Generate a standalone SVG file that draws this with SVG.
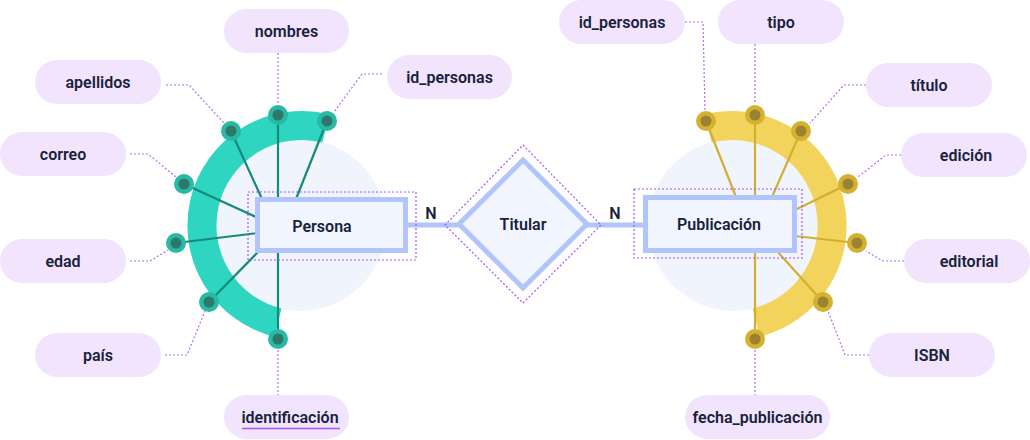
<svg xmlns="http://www.w3.org/2000/svg" width="1030" height="440" viewBox="0 0 1030 440">
<style>
.pill{fill:#f2e4fd}
.pt{font-family:Roboto,"Liberation Sans",sans-serif;font-size:16px;font-weight:600;fill:#18223b;text-anchor:middle}
.lead{fill:none;stroke:#b46cf6;stroke-width:1.2;stroke-dasharray:2 2}
.sel{fill:none;stroke:#a855f7;stroke-width:1.2;stroke-dasharray:2 2}
.ent{fill:#f0f5ff;stroke:#b1c5fa;stroke-width:5}
.rel{stroke:#b1c5fa;stroke-width:5;fill:none}
.tl{stroke:#15897a;stroke-width:2.2}
.gl{stroke:#d3ae34;stroke-width:2.2}
.tdo{fill:#27b9a4}.tdi{fill:#2c796c}
.gdo{fill:#d4b131}.gdi{fill:#9a8230}
.bg{fill:#eff4fd}
</style>
<g id="backgrounds">
<circle class="bg" cx="300" cy="225" r="86"/>
<circle class="bg" cx="734" cy="225" r="86"/>
<path d="M325.9,128.4 A100,100 0 1 0 278,322.6" fill="none" stroke="#2ed5c0" stroke-width="29"/>
<path d="M708.1,128.4 A100,100 0 1 1 756,322.6" fill="none" stroke="#f2d45c" stroke-width="29"/>
</g>
<g id="connectors">
<path class="lead" d="M166,85 H189 L224,123"/>
<path class="lead" d="M278,53 V104"/>
<path class="lead" d="M382,74 H362 L334,112"/>
<path class="lead" d="M130,154 H148 L176,177"/>
<path class="lead" d="M130,261 H150 L168,250"/>
<path class="lead" d="M165,355 H187 L205,311"/>
<path class="lead" d="M278,350 V395"/>
<path class="lead" d="M685,22 H703 L705,111"/>
<path class="lead" d="M755,44 V104"/>
<path class="lead" d="M866,85 H844 L810,123"/>
<path class="lead" d="M901,155 H886 L858,177"/>
<path class="lead" d="M904,261 H883 L866,251"/>
<path class="lead" d="M869,355 H845 L828,311"/>
<path class="lead" d="M755,350 V395"/>
<line class="tl" x1="231" y1="131" x2="262" y2="199"/>
<line class="tl" x1="278" y1="115" x2="278" y2="199"/>
<line class="tl" x1="327" y1="121" x2="296" y2="199"/>
<line class="tl" x1="184" y1="184" x2="258" y2="218"/>
<line class="tl" x1="176" y1="243" x2="258" y2="233"/>
<line class="tl" x1="209" y1="302" x2="259" y2="251"/>
<line class="tl" x1="278" y1="339" x2="278" y2="251"/>
<line class="gl" x1="706" y1="121" x2="736" y2="197"/>
<line class="gl" x1="755" y1="115" x2="755" y2="197"/>
<line class="gl" x1="801" y1="131" x2="772" y2="197"/>
<line class="gl" x1="848" y1="184" x2="795" y2="210"/>
<line class="gl" x1="857" y1="243" x2="795" y2="236"/>
<line class="gl" x1="823" y1="302" x2="776" y2="250"/>
<line class="gl" x1="755" y1="339" x2="755" y2="250"/>
<line class="rel" x1="406" y1="225" x2="461" y2="225"/>
<line class="rel" x1="585" y1="225" x2="646" y2="225"/>
</g>
<g id="dots">
<circle class="tdo" cx="231" cy="131" r="10"/><circle class="tdi" cx="231" cy="131" r="5.5"/>
<circle class="tdo" cx="278" cy="115" r="10"/><circle class="tdi" cx="278" cy="115" r="5.5"/>
<circle class="tdo" cx="327" cy="121" r="10"/><circle class="tdi" cx="327" cy="121" r="5.5"/>
<circle class="tdo" cx="184" cy="184" r="10"/><circle class="tdi" cx="184" cy="184" r="5.5"/>
<circle class="tdo" cx="176" cy="243" r="10"/><circle class="tdi" cx="176" cy="243" r="5.5"/>
<circle class="tdo" cx="209" cy="302" r="10"/><circle class="tdi" cx="209" cy="302" r="5.5"/>
<circle class="tdo" cx="278" cy="339" r="10"/><circle class="tdi" cx="278" cy="339" r="5.5"/>
<circle class="gdo" cx="706" cy="121" r="10"/><circle class="gdi" cx="706" cy="121" r="5.5"/>
<circle class="gdo" cx="755" cy="115" r="10"/><circle class="gdi" cx="755" cy="115" r="5.5"/>
<circle class="gdo" cx="801" cy="131" r="10"/><circle class="gdi" cx="801" cy="131" r="5.5"/>
<circle class="gdo" cx="848" cy="184" r="10"/><circle class="gdi" cx="848" cy="184" r="5.5"/>
<circle class="gdo" cx="857" cy="243" r="10"/><circle class="gdi" cx="857" cy="243" r="5.5"/>
<circle class="gdo" cx="823" cy="302" r="10"/><circle class="gdi" cx="823" cy="302" r="5.5"/>
<circle class="gdo" cx="755" cy="339" r="10"/><circle class="gdi" cx="755" cy="339" r="5.5"/>
</g>
<g id="persona">
<rect class="sel" x="248" y="192" width="168" height="68"/>
<rect class="ent" x="257.5" y="199.5" width="148" height="51"/>
<text class="pt" x="322" y="231.5">Persona</text>
</g>
<g id="publicacion">
<rect class="sel" x="634" y="189" width="168" height="69"/>
<rect class="ent" x="645.5" y="197.5" width="149" height="53"/>
<text class="pt" x="719" y="230">Publicación</text>
</g>
<g id="titular">
<path class="sel" d="M523,145 L601,225 L523,303 L445,225 Z"/>
<path class="ent" stroke-width="6" d="M523,160 L587,224 L523,288 L459,224 Z"/>
<text class="pt" x="523" y="230">Titular</text>
</g>
<g id="cardinality">
<text class="pt" x="431" y="219" font-weight="700">N</text>
<text class="pt" x="615" y="219" font-weight="700">N</text>
</g>
<g id="attr-nombres"><rect class="pill" x="224" y="9" width="125" height="44" rx="22"/><text class="pt" x="286.5" y="36.5">nombres</text></g>
<g id="attr-apellidos"><rect class="pill" x="35" y="60" width="126" height="44" rx="22"/><text class="pt" x="98" y="87.5">apellidos</text></g>
<g id="attr-id_personas-p"><rect class="pill" x="387" y="55" width="125" height="44" rx="22"/><text class="pt" x="449.5" y="82.5">id_personas</text></g>
<g id="attr-correo"><rect class="pill" x="0" y="132" width="126" height="44" rx="22"/><text class="pt" x="63" y="159.5">correo</text></g>
<g id="attr-edad"><rect class="pill" x="0" y="239" width="126" height="44" rx="22"/><text class="pt" x="63" y="266.5">edad</text></g>
<g id="attr-pais"><rect class="pill" x="35" y="333" width="126" height="44" rx="22"/><text class="pt" x="98" y="360.5">país</text></g>
<g id="attr-identificacion"><rect class="pill" x="224" y="395" width="125" height="44" rx="22"/><text class="pt" x="290" y="422.5">identificación</text><line x1="242" y1="428.5" x2="340" y2="428.5" stroke="#a855f7" stroke-width="1.5"/></g>
<g id="attr-id_personas-b"><rect class="pill" x="559" y="0" width="126" height="44" rx="22"/><text class="pt" x="622" y="27.5">id_personas</text></g>
<g id="attr-tipo"><rect class="pill" x="718" y="0" width="126" height="44" rx="22"/><text class="pt" x="781" y="27.5">tipo</text></g>
<g id="attr-titulo"><rect class="pill" x="866" y="63" width="126" height="44" rx="22"/><text class="pt" x="929" y="90.5">título</text></g>
<g id="attr-edicion"><rect class="pill" x="901" y="133" width="126" height="44" rx="22"/><text class="pt" x="966" y="160.5">edición</text></g>
<g id="attr-editorial"><rect class="pill" x="904" y="239" width="126" height="44" rx="22"/><text class="pt" x="969" y="266.5">editorial</text></g>
<g id="attr-isbn"><rect class="pill" x="869" y="333" width="126" height="44" rx="22"/><text class="pt" x="932" y="360.5">ISBN</text></g>
<g id="attr-fecha"><rect class="pill" x="685" y="395" width="145" height="44" rx="22"/><text class="pt" x="757.5" y="422.5">fecha_publicación</text></g>
</svg>
